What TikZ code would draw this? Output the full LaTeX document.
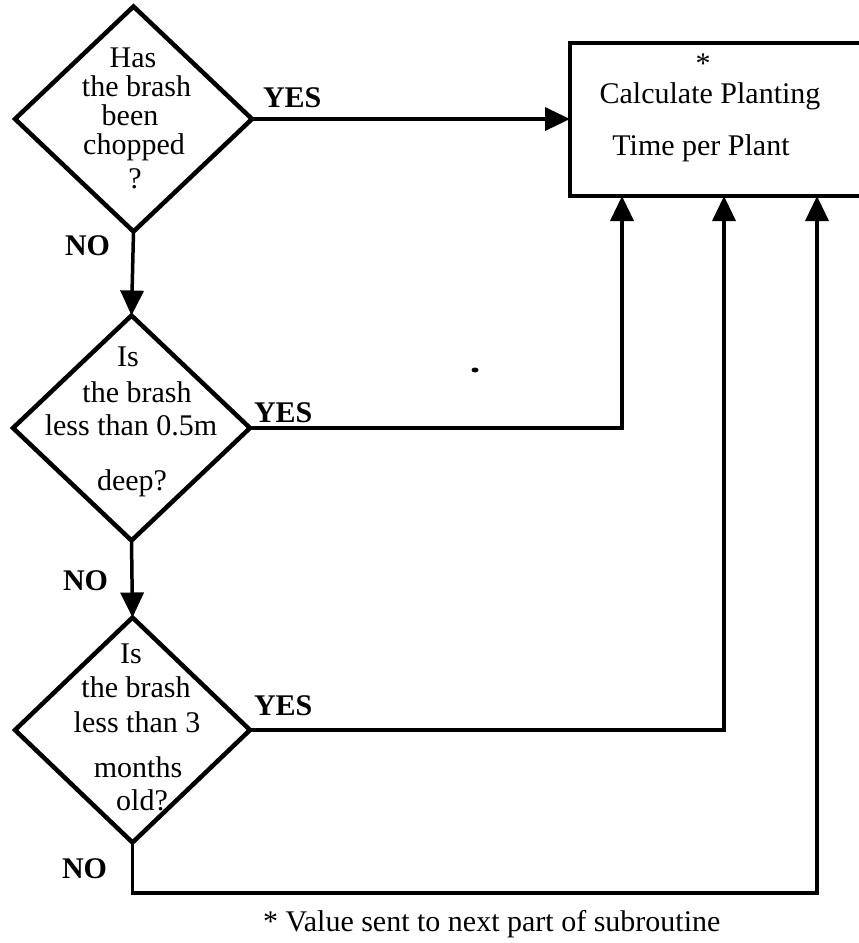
\documentclass[tikz,border=0pt]{standalone}
\usepackage{fontspec}
\setmainfont{Liberation Serif}
\usetikzlibrary{arrows.meta,shapes.geometric}
\begin{document}
\begin{tikzpicture}[x=1pt,y=-1pt,
  every node/.style={inner sep=0pt, outer sep=0pt},
  dec/.style={diamond, draw, line width=4.5pt, minimum width=237pt, minimum height=225pt, line join=miter},
  procbox/.style={draw, line width=4pt, minimum width=302pt, minimum height=153pt},
  txt/.style={anchor=base, font=\fontsize{30}{30}\selectfont},
  lab/.style={anchor=base west, font=\fontsize{30}{30}\selectfont\bfseries},
  conn/.style={line width=3.5pt, line join=miter},
  arr/.style={conn, -{Triangle[length=25pt,width=23pt]}},
]
\useasboundingbox (0,0) rectangle (859,943);
\clip (0,0) rectangle (859,943);

% decision diamonds
\node[dec] (d1) at (133.5,119) {};
\node[dec] (d2) at (131.5,428) {};
\node[dec, minimum width=235pt] (d3) at (132.5,730) {};

% process box (right side runs off the page)
\node[procbox] (box) at (721,119.5) {};

% diamond texts
\node[txt] (t11) at (133,67) {Has};
\node[txt] (t12) at (136.5,96) {the brash};
\node[txt] (t13) at (130,125) {been};
\node[txt] (t14) at (134,154) {chopped};
\node[txt] (t15) at (135,188) {?};

\node[txt] (t21) at (128,366) {Is};
\node[txt] (t22) at (137,402) {the brash};
\node[txt] (t23) at (131,435) {less than 0.5m};
\node[txt] (t24) at (132,490) {deep?};

\node[txt] (t31) at (131,663) {Is};
\node[txt] (t32) at (136,697) {the brash};
\node[txt] (t33) at (137,732) {less than 3};
\node[txt] (t34) at (138,777) {months};
\node[txt] (t35) at (142,810) {old?};

% box texts
\node[txt] (b1) at (703,73) {*};
\node[txt] (b2) at (710,103) {Calculate Planting};
\node[txt] (b3) at (701,155) {Time per Plant};

% labels
\node[lab] (y1) at (263,107) {YES};
\node[lab] (n1) at (65,255) {NO};
\node[lab] (y2) at (254,422) {YES};
\node[lab] (n2) at (63,590) {NO};
\node[lab] (y3) at (254,715) {YES};
\node[lab] (n3) at (62,878) {NO};

% footnote
\node[anchor=base west, font=\fontsize{30}{30}\selectfont] (fn) at (263,931) {* Value sent to next part of subroutine};

% entry points at box bottom
\coordinate (in1) at (622,196);
\coordinate (in2) at (724,196);
\coordinate (in3) at (817,196);
\coordinate (nb) at (132.5,893);

% connectors
\draw[arr] (d1.east) -- (d1.east -| box.west);
\draw[arr] (d1.south) -- (d2.north);
\draw[arr] (d2.south) -- (d3.north);
\draw[arr] (d2.east) -| (in1);
\draw[arr] (d3.east) -| (in2);
\draw[arr] (d3.south) -- (nb) -| (in3);

% stray speck
\fill (475,370) ellipse [x radius=3.5pt, y radius=2.5pt];
\end{tikzpicture}
\end{document}
